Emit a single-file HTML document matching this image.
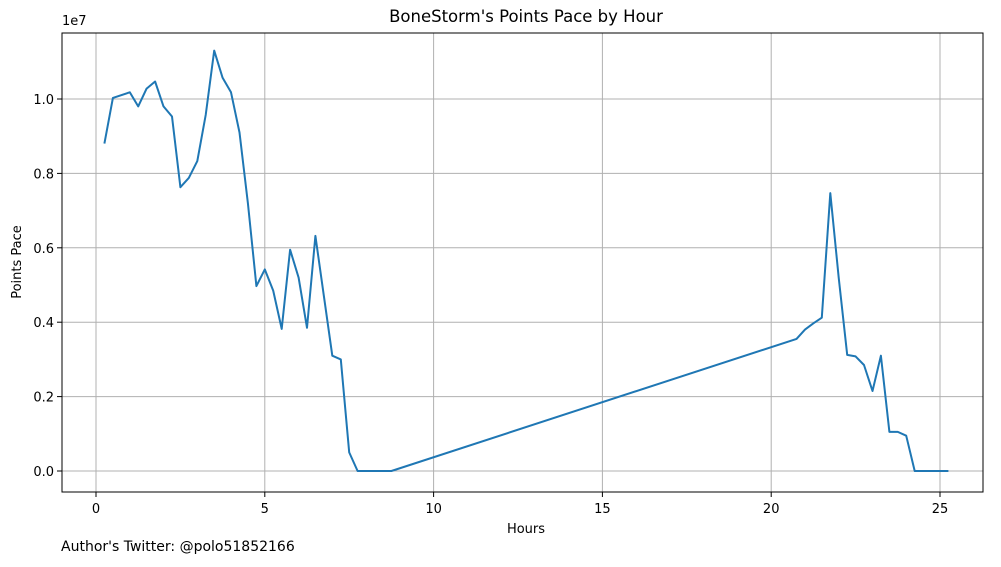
<!DOCTYPE html>
<html><head><meta charset="utf-8"><style>
body{margin:0;background:#fff;}
svg text{font-family:"DejaVu Sans","Liberation Sans",sans-serif;fill:#000;}
</style></head><body>
<svg width="1001" height="562" viewBox="0 0 1001 562" xmlns="http://www.w3.org/2000/svg">
<rect width="1001" height="562" fill="#fff"/>
<g id="grid"></g>
<g id="axes"></g>
<path id="line" fill="none" stroke="#1f77b4" stroke-width="2" stroke-linejoin="round"/>
<rect x="62" y="33" width="921" height="459" fill="none" stroke="#000" stroke-width="1"/>
<text x="526" y="22" font-size="16.5" text-anchor="middle">BoneStorm's Points Pace by Hour</text>
<text x="526" y="533" font-size="13" text-anchor="middle">Hours</text>
<text x="21" y="262" font-size="13" text-anchor="middle" transform="rotate(-90 21 262)">Points Pace</text>
<text x="62" y="25" font-size="13">1e7</text>
<text x="61" y="551" font-size="14">Author's Twitter: @polo51852166</text>
</svg>
<script>
const hours=[0.25,0.5,1.0,1.25,1.5,1.75,2.0,2.25,2.5,2.75,3.0,3.25,3.5,3.75,4.0,4.25,4.5,4.75,5.0,5.25,5.5,5.75,6.0,6.25,6.5,6.75,7.0,7.25,7.5,7.75,8.0,8.25,8.5,8.75,20.75,21.0,21.25,21.5,21.75,22.0,22.25,22.5,22.75,23.0,23.25,23.5,23.75,24.0,24.25,24.5,24.75,25.0,25.25];
const pace=[8.8,10.03,10.18,9.8,10.28,10.47,9.8,9.53,7.63,7.88,8.33,9.57,11.3,10.57,10.18,9.1,7.2,4.97,5.42,4.85,3.82,5.95,5.2,3.85,6.32,4.7,3.1,3.0,0.5,0,0,0,0,0,3.55,3.8,3.97,4.12,7.47,5.2,3.12,3.08,2.85,2.15,3.1,1.05,1.05,0.95,0,0,0,0,0];
const xTicks=[0,5,10,15,20,25];
const yTicks=[0,0.2,0.4,0.6,0.8,1.0];
const yTickLabels=["0.0","0.2","0.4","0.6","0.8","1.0"];
const NS="http://www.w3.org/2000/svg";
const X=h=>96+h*33.76;
const Y=v=>471-v*37.2;
const grid=document.getElementById('grid'),axes=document.getElementById('axes');
function mk(tag,attrs,parent){const e=document.createElementNS(NS,tag);for(const k in attrs)e.setAttribute(k,attrs[k]);parent.appendChild(e);return e;}
xTicks.forEach(t=>{
 const g=mk('line',{x1:X(t),x2:X(t),y1:33,y2:492,stroke:'#b0b0b0','stroke-width':1},grid);
 
 
 const tk=mk('line',{x1:X(t),x2:X(t),y1:492,y2:497,stroke:'#000'},axes);
 
 
 const tx=mk('text',{x:X(t),y:513,'font-size':13,'text-anchor':'middle'},axes);
 tx.textContent=t;
 
 
});
yTicks.forEach((t,i)=>{
 const v=t*10;
 const g=mk('line',{x1:62,x2:983,y1:Y(v),y2:Y(v),stroke:'#b0b0b0','stroke-width':1},grid);
 
 
 const tk=mk('line',{x1:57,x2:62,y1:Y(v),y2:Y(v),stroke:'#000'},axes);
 
 
 const tx=mk('text',{x:54,y:Y(v)+5,'font-size':13,'text-anchor':'end'},axes);
 tx.textContent=yTickLabels[i];
 
 
});
document.getElementById('line').setAttribute('d',hours.map((h,i)=>(i?'L':'M')+X(h).toFixed(1)+' '+Y(pace[i]).toFixed(1)).join(' '));
</script>
</body></html>
